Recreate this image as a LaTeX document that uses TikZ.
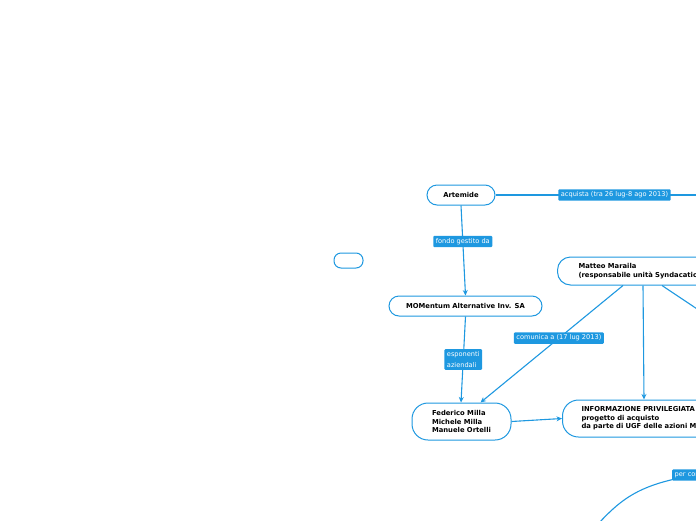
\documentclass[tikz,border=0pt]{standalone}
\usepackage{fontspec}
\setmainfont{DejaVu Sans}
\usetikzlibrary{arrows.meta}
\definecolor{mblue}{RGB}{30,152,224}
\tikzset{
  topic/.style={draw=mblue, line width=1pt, rounded corners=10pt, fill=white,
    font=\fontsize{6.8}{8.4}\selectfont\bfseries, align=left, inner sep=0pt},
  lab/.style={fill=mblue, text=white, rounded corners=1pt, inner xsep=2.5pt, inner ysep=2.5pt,
    font=\fontsize{6.6}{10.5}\selectfont, align=left},
  conn/.style={draw=mblue, line width=1.1pt},
  arr/.style={conn, -{Stealth[length=5.5pt,width=5pt]}}
}
\begin{document}
\begin{tikzpicture}[x=1pt,y=-1pt]
\useasboundingbox (0,0) rectangle (696,520);
\clip (0,0) rectangle (696,520);
% nodes
\node[topic, minimum width=68pt, minimum height=20pt] (artemide) at (461,195) {Artemide};
\node[topic, minimum width=29pt, minimum height=15pt, rounded corners=7pt] (empty) at (348.5,260.5) {};
\node[topic, minimum width=153pt, minimum height=20pt] (momentum) at (465.5,306) {MOMentum Alternative Inv. SA};
\node[topic, minimum width=99pt, minimum height=37pt, rounded corners=16pt] (federico) at (461.5,421.5) {Federico Milla\\Michele Milla\\Manuele Ortelli};
\node[topic, anchor=west, minimum height=28pt, minimum width=240pt, rounded corners=13pt, inner xsep=21pt, text width=198pt] (matteo) at (557,271) {Matteo Maraila\\(responsabile unità Syndacation};
\node[topic, anchor=west, minimum height=37pt, minimum width=240pt, rounded corners=16pt, inner xsep=19pt, text width=202pt] (info) at (562,418.5) {INFORMAZIONE PRIVILEGIATA\\progetto di acquisto\\da parte di UGF delle azioni M};
% off-canvas ends
\coordinate (offA) at (720,195);
\coordinate (offM) at (730,331);
\coordinate (offC) at (720,472);
\coordinate (curveStart) at (598,524);
% connectors
\draw[conn] (artemide.east) -- (offA)
  node[lab, pos=0.53] (lacq) {acquista (tra 26 lug-8 ago 2013)};
\draw[arr] (artemide.south) -- (momentum.north)
  node[lab, pos=0.4] (lfondo) {fondo gestito da};
\draw[arr] (momentum.south) -- ([xshift=-0.5pt]federico.north)
  node[lab, pos=0.5] (lesp) {esponenti\\aziendali};
\draw[arr] (federico.east) -- (info.west);
\draw[arr] ([xshift=66pt]matteo.south west) -- ([xshift=69pt]federico.north west)
  node[lab, pos=0.45] (lcom) {comunica a (17 lug 2013)};
\draw[arr] ([xshift=86pt]matteo.south west) -- ([xshift=82pt]info.north west);
\draw[conn] ([xshift=105pt]matteo.south west) -- (offM);
\draw[conn] (curveStart) .. controls (625,495) and (645,480) .. (offC);
\node[lab, anchor=west] (lper) at (672,475) {per comunicazione};
\end{tikzpicture}
\end{document}
